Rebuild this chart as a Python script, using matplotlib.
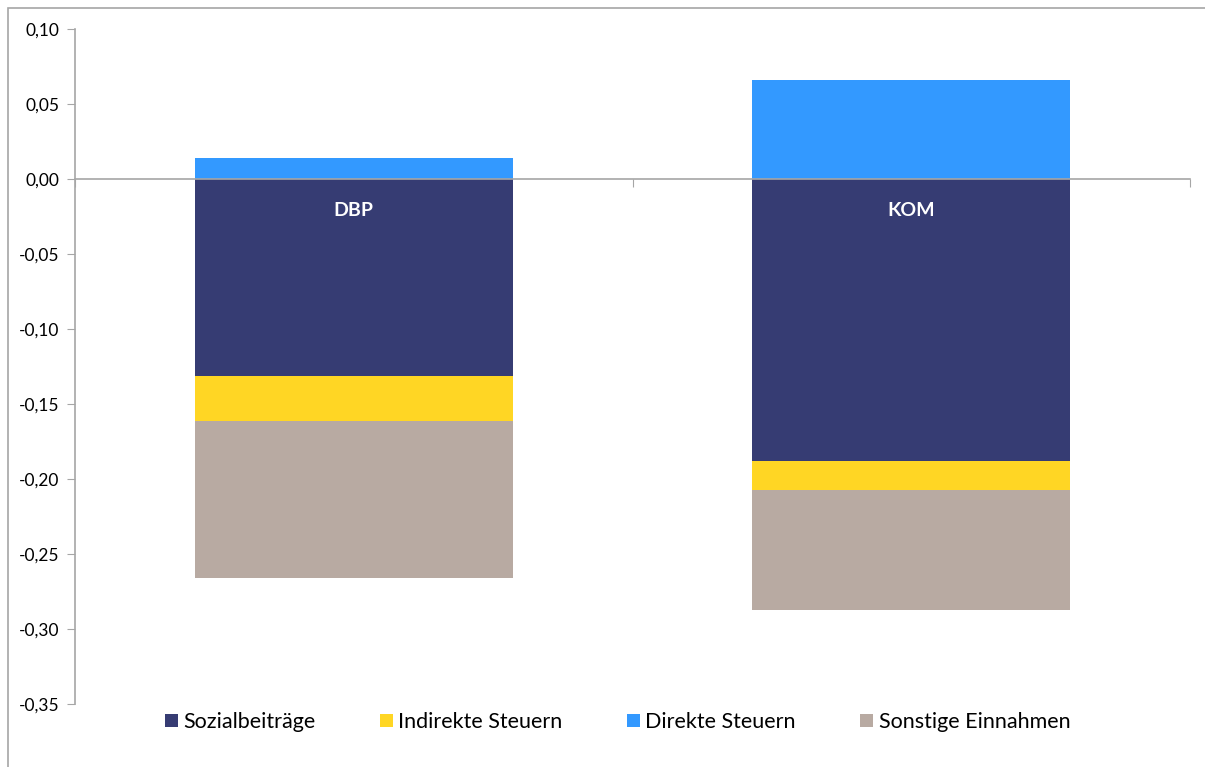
import matplotlib
matplotlib.use('Agg')

import numpy as np
import matplotlib.pyplot as plt
from matplotlib.patches import Patch, Rectangle
from matplotlib.ticker import FuncFormatter

# Data
categories = ["DBP", "KOM"]
sozialbeitraege = [-0.131, -0.188]
indirekte_steuern = [-0.030, -0.019]
direkte_steuern = [0.014, 0.066]
sonstige_einnahmen = [-0.105, -0.080]

series_names = ["Sozialbeiträge", "Indirekte Steuern", "Direkte Steuern", "Sonstige Einnahmen"]
colors = {"Sozialbeiträge": "#363c73", "Indirekte Steuern": "#ffd624",
          "Direkte Steuern": "#3399ff", "Sonstige Einnahmen": "#b8aaa2"}

plt.rcParams['font.family'] = ['Lato', 'DejaVu Sans']

fig = plt.figure(figsize=(12.05, 7.67), dpi=100)
ax = fig.add_axes([75 / 1205, 1 - 704 / 767, (1190 - 75) / 1205, (704 - 29) / 767])

x = np.arange(len(categories)) + 0.5
width = 0.57

soz = np.array(sozialbeitraege)
ind = np.array(indirekte_steuern)
direkt = np.array(direkte_steuern)
sonst = np.array(sonstige_einnahmen)

ax.bar(x, soz, width, color=colors["Sozialbeiträge"], zorder=2)
ax.bar(x, ind, width, bottom=soz, color=colors["Indirekte Steuern"], zorder=2)
ax.bar(x, direkt, width, color=colors["Direkte Steuern"], zorder=2)
ax.bar(x, sonst, width, bottom=soz + ind, color=colors["Sonstige Einnahmen"], zorder=2)

for xi, name in zip(x, categories):
    ax.text(xi, -0.021, name, ha='center', va='center', color='white',
            fontsize=14, fontweight='bold', zorder=3)

ax.set_xlim(0, 2)
ax.set_ylim(-0.35, 0.10)
ax.set_yticks(np.arange(-0.35, 0.1001, 0.05))
ax.yaxis.set_major_formatter(FuncFormatter(lambda v, p: f"{v:.2f}".replace('.', ',').replace('-0,00', '0,00')))
ax.set_xticks([0, 1, 2])
ax.set_xticklabels([])

for s in ['top', 'right']:
    ax.spines[s].set_visible(False)
ax.spines['bottom'].set_position(('data', 0))
ax.spines['bottom'].set_zorder(4)
for s in ['left', 'bottom']:
    ax.spines[s].set_color('#a6a6a6')
    ax.spines[s].set_linewidth(1.2)
ax.tick_params(axis='y', direction='out', length=6, color='#a6a6a6', labelsize=12.5, pad=5)
ax.tick_params(axis='x', direction='out', length=6, color='#a6a6a6')

handles = [Patch(facecolor=colors[n], edgecolor='none', label=n) for n in series_names]
fig.legend(handles=handles, loc='center', bbox_to_anchor=(0.5125, 1 - 722 / 767), ncol=4,
           frameon=False, fontsize=15.5, handlelength=0.6, handleheight=0.6,
           handletextpad=0.25, columnspacing=3.0)

# outer chart frame
fig.patches.append(Rectangle((8 / 1205, -0.01), 1.0, 1 - 8 / 767 + 0.01, transform=fig.transFigure,
                             fill=False, edgecolor='#a6a6a6', linewidth=1.2))

fig.savefig('out.png', dpi=100)
